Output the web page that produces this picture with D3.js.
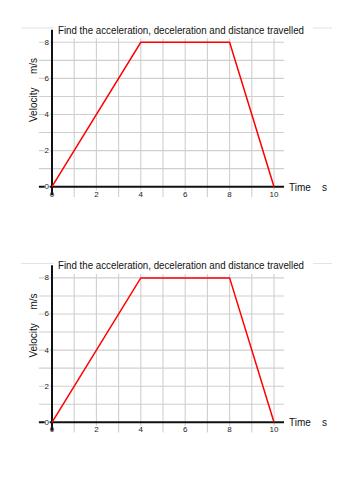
<html lang="en">
<head>
    <meta charset="UTF-8">
    <title>Velocity-time graphs</title>
    <style>
        body { margin: 0; background: #fff; }
        text { font-family: "Liberation Sans", Arial, sans-serif; }
    </style>
</head>
<body>
    <div id="chart"></div>
    <script src="https://d3js.org/d3.v7.min.js"></script>
    <script>
        // data
        const times = [0, 4, 8, 10];
        const velocities = [0, 8, 8, 0];
        const xTicks = [0, 2, 4, 6, 8, 10];
        const yTicks = [0, 2, 4, 6, 8];
        const gridX = d3.range(1, 11);
        const gridY = d3.range(1, 9);
        const title = "Find the acceleration, deceleration and distance travelled";
        const chartTops = [0, 235.6];

        const width = 353, height = 500;
        const svg = d3.select('#chart')
            .append('svg')
            .attr('width', width)
            .attr('height', height);
        svg.append('rect').attr('width', width).attr('height', height).attr('fill', '#fff');

        const x = d3.scaleLinear().domain([0, 10]).range([52, 274]);
        const y = d3.scaleLinear().domain([0, 8]).range([186.7, 42.3]);

        function drawChart(top) {
            const g = svg.append('g').attr('transform', `translate(0,${top})`);

            // faint stray lines at the top
            g.append('line').attr('x1', 21).attr('x2', 54).attr('y1', 28).attr('y2', 28)
                .attr('stroke', '#e2e2e2').attr('stroke-width', 1);
            g.append('line').attr('x1', 313).attr('x2', 332).attr('y1', 28).attr('y2', 28)
                .attr('stroke', '#e2e2e2').attr('stroke-width', 1);

            // grid
            g.selectAll('.vgrid')
                .data(gridX)
                .enter()
                .append('line')
                .attr('x1', d => x(d)).attr('x2', d => x(d))
                .attr('y1', y(8.22)).attr('y2', y(-0.57))
                .attr('stroke', '#cfcfcf').attr('stroke-width', 1.1);
            g.selectAll('.hgrid')
                .data(gridY)
                .enter()
                .append('line')
                .attr('x1', x(-0.59)).attr('x2', x(10.45))
                .attr('y1', d => y(d)).attr('y2', d => y(d))
                .attr('stroke', '#cfcfcf').attr('stroke-width', 1.1);

            // axes
            g.append('line')
                .attr('x1', x(-0.59)).attr('x2', x(10.45))
                .attr('y1', y(0)).attr('y2', y(0))
                .attr('stroke', '#111').attr('stroke-width', 2);
            g.append('line')
                .attr('x1', x(0)).attr('x2', x(0))
                .attr('y1', y(8.7)).attr('y2', y(-0.47))
                .attr('stroke', '#111').attr('stroke-width', 2);

            // y tick labels
            yTicks.forEach(v => {
                g.append('rect')
                    .attr('x', x(-0.33)).attr('y', y(v) - 4)
                    .attr('width', 5).attr('height', 8).attr('fill', '#fff');
                g.append('text')
                    .attr('x', x(-0.14)).attr('y', y(v))
                    .attr('text-anchor', 'end')
                    .attr('dominant-baseline', 'central')
                    .attr('font-size', 8)
                    .attr('fill', '#222')
                    .text(v);
            });

            // x tick labels
            xTicks.forEach(v => {
                if (v > 0) {
                    g.append('rect')
                        .attr('x', x(v) - (v >= 10 ? 5 : 3)).attr('y', y(-0.2))
                        .attr('width', v >= 10 ? 10 : 6).attr('height', 7).attr('fill', '#fff');
                }
                g.append('text')
                    .attr('x', x(v)).attr('y', y(-0.42))
                    .attr('text-anchor', 'middle')
                    .attr('dominant-baseline', 'central')
                    .attr('font-size', 8)
                    .attr('fill', '#222')
                    .text(v);
            });

            // velocity line
            const line = d3.line()
                .x((d, i) => x(times[i]))
                .y(d => y(d));
            g.append('path')
                .datum(velocities)
                .attr('d', line)
                .attr('fill', 'none')
                .attr('stroke', '#f00')
                .attr('stroke-width', 1.5);

            // title
            g.append('text')
                .attr('x', 58).attr('y', 33.5)
                .attr('font-size', 10.5)
                .attr('textLength', 246)
                .attr('lengthAdjust', 'spacingAndGlyphs')
                .attr('fill', '#111')
                .text(title);

            // axis labels
            g.append('text')
                .attr('x', 289).attr('y', 190.5)
                .attr('font-size', 10)
                .attr('fill', '#111')
                .text('Time');
            g.append('text')
                .attr('x', 322).attr('y', 190.5)
                .attr('font-size', 10)
                .attr('fill', '#111')
                .text('s');
            g.append('text')
                .attr('transform', 'translate(37,122) rotate(-90)')
                .attr('font-size', 10)
                .attr('fill', '#111')
                .text('Velocity');
            g.append('text')
                .attr('transform', 'translate(37,74) rotate(-90)')
                .attr('font-size', 10)
                .attr('fill', '#111')
                .text('m/s');
        }

        chartTops.forEach(drawChart);
    </script>
</body>
</html>
